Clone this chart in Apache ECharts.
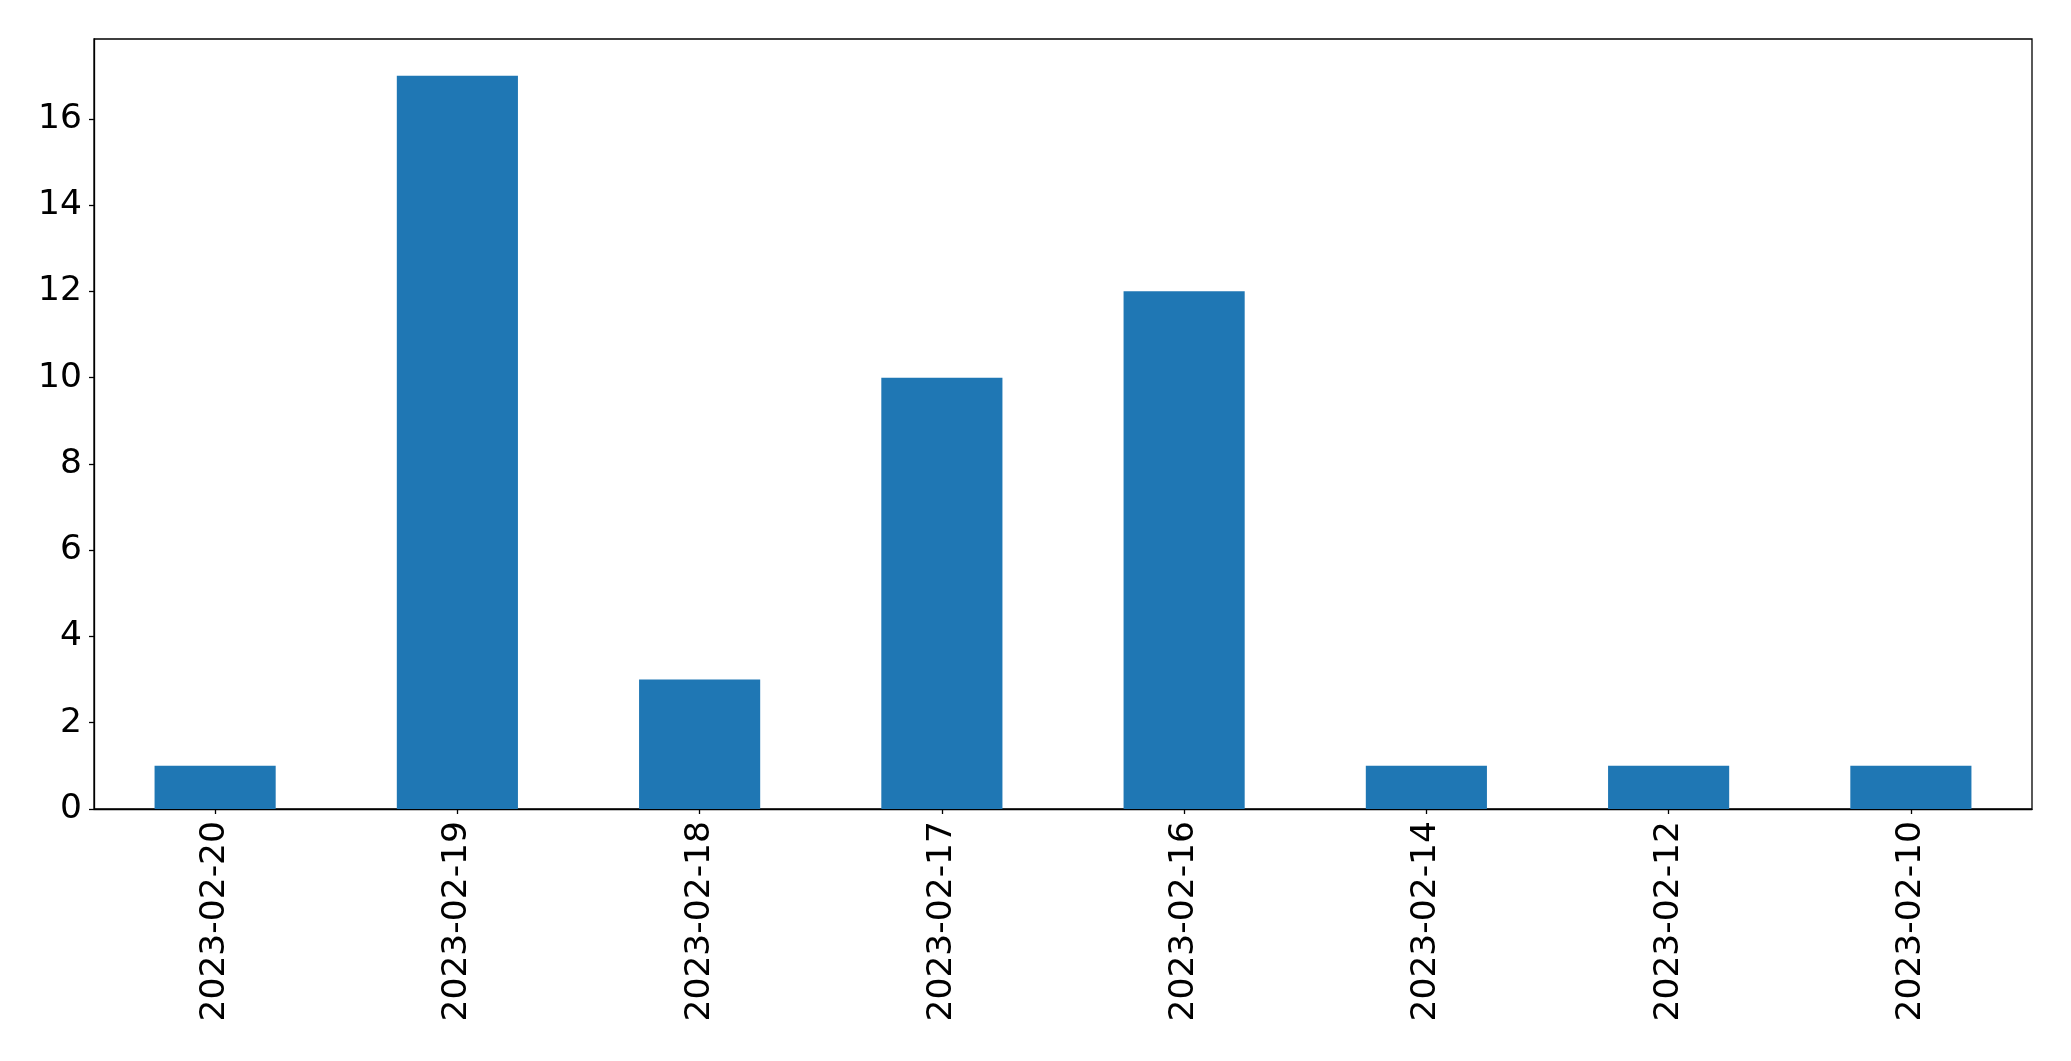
<!DOCTYPE html>
<html>
<head>
<meta charset="utf-8">
<script src="https://cdn.jsdelivr.net/npm/echarts@6/dist/echarts.min.js"></script>
<style>
html,body{margin:0;padding:0;background:#fff;}
#chart{width:2071px;height:1061px;}
</style>
</head>
<body>
<div id="chart"></div>
<script>
const categories = ["2023-02-20","2023-02-19","2023-02-18","2023-02-17","2023-02-16","2023-02-14","2023-02-12","2023-02-10"];
const counts = [1, 17, 3, 10, 12, 1, 1, 1];
const yTicks = [0, 2, 4, 6, 8, 10, 12, 14, 16];

const chart = echarts.init(document.getElementById('chart'), null, {renderer: 'canvas'});
const font = 'DejaVu Sans';
chart.setOption({
  animation: false,
  backgroundColor: '#ffffff',
  grid: {
    left: 94, right: 39, top: 39, bottom: 252,
    show: true, borderColor: '#000', borderWidth: 1.3, backgroundColor: 'transparent'
  },
  xAxis: {
    type: 'category',
    data: categories,
    axisLine: {show: true, lineStyle: {color: '#000', width: 1.3}},
    axisTick: {show: true, alignWithLabel: true, length: 5, lineStyle: {color: '#000', width: 1.3}},
    axisLabel: {rotate: 90, color: '#000', fontFamily: font, fontSize: 34.5, margin: 12, interval: 0},
    splitLine: {show: false}
  },
  yAxis: {
    type: 'value',
    min: 0, max: 17.85, interval: 2,
    axisLine: {show: true, lineStyle: {color: '#000', width: 1.3}},
    axisTick: {show: true, length: 5, customValues: yTicks, lineStyle: {color: '#000', width: 1.3}},
    axisLabel: {color: '#000', fontFamily: font, fontSize: 34.5, margin: 12, customValues: yTicks,
      formatter: v => yTicks.includes(v) ? String(v) : ''},
    splitLine: {show: false}
  },
  series: [{
    type: 'bar',
    data: counts,
    barWidth: '50%',
    itemStyle: {color: '#1f77b4'}
  }]
});
</script>
</body>
</html>
